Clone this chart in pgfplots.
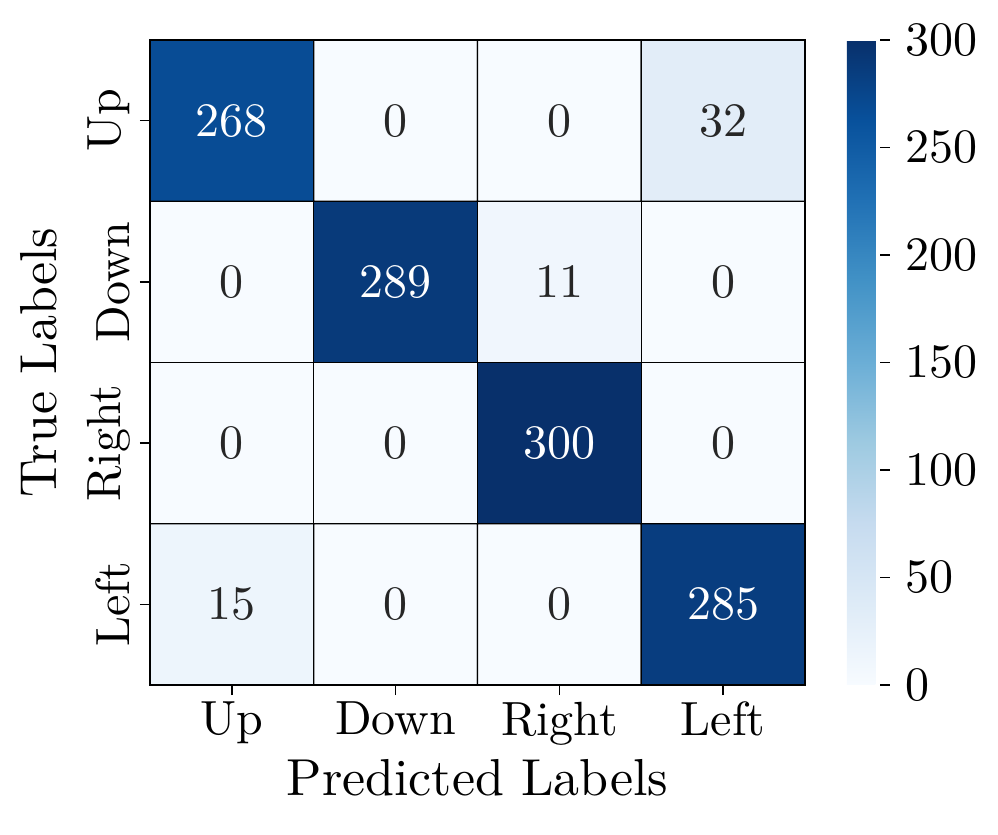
\documentclass[border=0pt]{standalone}
\usepackage{fontspec}
\setmainfont{lmroman10}[Extension=.otf, UprightFont=*-regular, BoldFont=*-bold, ItalicFont=*-italic]
\usepackage{pgfplots}
\pgfplotsset{compat=1.18}
\definecolor{darktext}{HTML}{262626}
\newcommand{\tickfont}{\fontsize{24}{28}\selectfont}
\newcommand{\labfont}{\fontsize{26}{30}\selectfont}
\begin{document}
\begin{tikzpicture}
\useasboundingbox (0,0) rectangle (499pt,417.5pt);
\begin{axis}[
  at={(75pt,75pt)}, anchor=south west,
  width=327.5pt, height=322.5pt, scale only axis,
  xmin=-0.5, xmax=3.5, ymin=-0.5, ymax=3.5,
  y dir=reverse,
  xtick={0,1,2,3}, ytick={0,1,2,3},
  xticklabels={Up,Down,Right,Left},
  yticklabels={Up,Down,Right,Left},
  yticklabel style={rotate=90, anchor=south, font=\tickfont},
  yticklabel shift=1.5pt,
  xticklabel style={font=\tickfont},
  xlabel={Predicted Labels}, ylabel={True Labels},
  ylabel shift=8pt,
  label style={font=\labfont},
  tick align=outside, xtick pos=bottom, ytick pos=left,
  major tick length=5pt,
  tick style={black, line width=0.8pt},
  axis line style={line width=1pt},
  colormap={blues}{rgb255(0)=(247,251,255) rgb255(1)=(222,235,247) rgb255(2)=(198,219,239) rgb255(3)=(158,202,225) rgb255(4)=(107,174,214) rgb255(5)=(66,146,198) rgb255(6)=(33,113,181) rgb255(7)=(8,81,156) rgb255(8)=(8,48,107)},
  point meta min=0, point meta max=300,
  colorbar,
  colorbar style={
    at={(1.0641,1)}, anchor=north west,
    width=16.5pt, height=322.5pt, scale only axis,
    ytick={0,50,100,150,200,250,300},
    yticklabel style={font=\tickfont, /pgf/number format/assume math mode=true},
    yticklabel shift=4pt,
    tick align=outside, ytick pos=right, major tick length=5pt,
    tick style={black, line width=0.8pt},
    axis line style={draw=none},
  },
  axis on top,
]
\addplot[matrix plot, mesh/cols=4, point meta=explicit, draw=black, line width=0.6pt] table[meta=C] {
x y C
0 0 268
1 0 0
2 0 0
3 0 32
0 1 0
1 1 289
2 1 11
3 1 0
0 2 0
1 2 0
2 2 300
3 2 0
0 3 15
1 3 0
2 3 0
3 3 285
};
\addplot[draw=none, mark=none, nodes near coords, point meta=explicit symbolic,
  nodes near coords style={anchor=center, font=\tickfont, text=white}] table[meta=L] {
x y L
0 0 268
1 1 289
2 2 300
3 3 285
};
\addplot[draw=none, mark=none, nodes near coords, point meta=explicit symbolic,
  nodes near coords style={anchor=center, font=\tickfont, text=darktext}] table[meta=L] {
x y L
1 0 0
2 0 0
3 0 32
0 1 0
2 1 11
3 1 0
0 2 0
1 2 0
3 2 0
0 3 15
1 3 0
2 3 0
};
\end{axis}
\end{tikzpicture}
\end{document}
